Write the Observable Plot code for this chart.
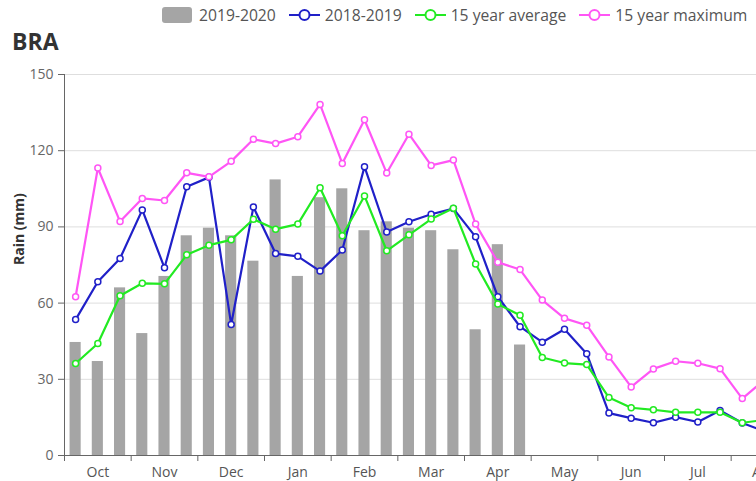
<!DOCTYPE html>
<html>
<head>
<meta charset="utf-8">
<script src="https://cdn.jsdelivr.net/npm/d3@7"></script>
<script src="https://cdn.jsdelivr.net/npm/@observablehq/plot@0.6"></script>
<style>
  html, body { margin: 0; padding: 0; background: #fff; overflow: hidden; }
  #wrap { position: relative; width: 756px; height: 481px; overflow: hidden; font-family: "Open Sans", sans-serif; }
  #chart { position: absolute; left: 0; top: 0; }
  #title { position: absolute; left: 12px; top: 30px; font-size: 23px; line-height: 23px; font-weight: bold; color: #333; }
  #legend { position: absolute; left: 162px; top: 4px; display: flex; align-items: center; font-size: 15.7px; color: #555; height: 22px; white-space: nowrap; }
  .sw { width: 30px; height: 16px; border-radius: 3px; background: #a5a5a5; margin-right: 7px; }
  .sym { margin-right: 5px; }
  .item { display: flex; align-items: center; margin-right: 13px; }
</style>
</head>
<body>
<div id="wrap">
  <div id="chart"></div>
  <div id="title">BRA</div>
  <div id="legend"></div>
</div>
<script>
// Dekads from October (index 0 = Oct dekad 1)
const months = ["Oct", "Nov", "Dec", "Jan", "Feb", "Mar", "Apr", "May", "Jun", "Jul", "Aug", "Sep"];

// 2019-2020 rainfall (bars), mm per dekad
const rain2019_2020 = [44.5, 37, 66, 48, 70.5, 86.5, 89.5, 86.5, 76.5, 108.5, 70.5, 101.5, 105, 88.5, 92, 89.5, 88.5, 81, 49.5, 83, 43.5];

// 2018-2019 rainfall
const rain2018_2019 = [53.5, 68.4, 77.6, 96.7, 73.9, 105.8, 109.5, 51.6, 97.8, 79.5, 78.4, 72.6, 80.9, 113.7, 88, 92, 95, 97.2, 86.1, 62.5, 50.7, 44.6, 49.7, 40.1, 16.7, 14.7, 12.9, 15.1, 13.2, 17.7, 12.8, 9.5];

// 15 year average
const avg15 = [36.2, 44.1, 62.9, 67.8, 67.6, 79, 82.8, 84.9, 93, 89.1, 91.1, 105.4, 86.5, 102.2, 80.6, 86.9, 93.1, 97.3, 75.4, 59.6, 55.2, 38.6, 36.4, 35.8, 22.8, 18.8, 18, 17, 17, 17, 12.9, 14];

// 15 year maximum
const max15 = [62.5, 113.2, 92.1, 101.2, 100.4, 111.3, 109.7, 115.8, 124.5, 122.8, 125.5, 138.2, 115, 132.2, 111.2, 126.5, 114.2, 116.3, 91.1, 76.1, 73.2, 61.2, 54, 51.3, 38.8, 27, 34.1, 37.1, 36.3, 34.2, 22.4, 29.8];

const yTicks = [0, 30, 60, 90, 120, 150];

const colBar = "#a5a5a5";
const colBlue = "#2020c8";
const colGreen = "#22ea22";
const colPink = "#ff55f5";

const toRows = arr => arr.map((v, i) => ({i, v}));
const bars = toRows(rain2019_2020);
const series = [
  {name: "2018-2019", color: colBlue, data: toRows(rain2018_2019)},
  {name: "15 year average", color: colGreen, data: toRows(avg15)},
  {name: "15 year maximum", color: colPink, data: toRows(max15)}
];

const nDek = months.length * 3;
const boundaries = d3.range(0, nDek + 1, 3);
const centers = months.map((m, k) => k * 3 + 1.5);

const marks = [
  Plot.gridY(yTicks.filter(d => d > 0), {stroke: "#dedede", strokeOpacity: 1}),
  Plot.rectY(bars, {x1: d => d.i + 0.25, x2: d => d.i + 0.75, y1: 0, y2: "v", fill: colBar}),
];
for (const s of series) {
  marks.push(Plot.line(s.data, {x: d => d.i + 0.5, y: "v", stroke: s.color, strokeWidth: 2.2}));
  marks.push(Plot.dot(s.data, {x: d => d.i + 0.5, y: "v", r: 3, fill: "white", stroke: s.color, strokeWidth: 1.5}));
}
marks.push(
  Plot.ruleY([0], {stroke: "#666"}),
  Plot.ruleX([0], {y1: 0, y2: 150, stroke: "#666"}),
  Plot.axisY(yTicks, {tickSize: 6, tickPadding: 5, fontSize: 14, fill: "#666", stroke: "#666", label: null}),
  Plot.axisX(boundaries, {tickSize: 6, tickFormat: () => "", stroke: "#666", label: null}),
  Plot.axisX(centers, {tickSize: 0, tickPadding: 12, fontSize: 14, fill: "#555", tickFormat: v => months[Math.round((v - 1.5) / 3)], label: null}),
  Plot.text(["Rain (mm)"], {frameAnchor: "left", rotate: -90, dx: -45, fontSize: 14, fontWeight: "bold", fill: "#333", text: d => d})
);

const chart = Plot.plot({
  width: 884,
  height: 481,
  marginLeft: 64,
  marginRight: 20,
  marginTop: 74,
  marginBottom: 26,
  x: {domain: [0, nDek], axis: null},
  y: {domain: [0, 150], axis: null},
  style: {fontFamily: "'Open Sans', sans-serif", fontSize: "14px", maxWidth: "none", background: "white", overflow: "visible"},
  marks
});
document.getElementById("chart").appendChild(chart);

// Legend
const legend = document.getElementById("legend");
{
  const it = document.createElement("div");
  it.className = "item";
  it.innerHTML = `<div class="sw"></div><span>2019-2020</span>`;
  legend.appendChild(it);
}
for (const s of series) {
  const it = document.createElement("div");
  it.className = "item";
  it.innerHTML = `<svg class="sym" width="31" height="14"><line x1="0" y1="7" x2="31" y2="7" stroke="${s.color}" stroke-width="2"/><circle cx="15.5" cy="7" r="5" fill="white" stroke="${s.color}" stroke-width="2"/></svg><span>${s.name}</span>`;
  legend.appendChild(it);
}
</script>
</body>
</html>
